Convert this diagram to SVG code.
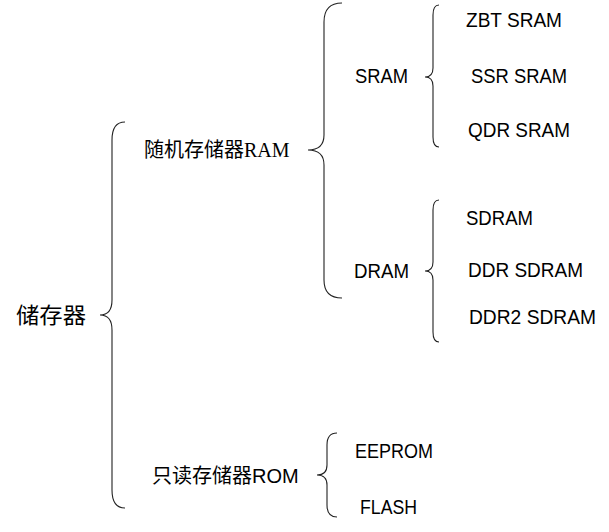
<svg xmlns="http://www.w3.org/2000/svg" width="609" height="532" viewBox="0 0 609 532">
<style>
.brace{fill:none;stroke:#222;stroke-width:1.1}
.cjk{font-family:"Noto Sans CJK SC","Liberation Sans",sans-serif;fill:#000}
.lat{font-family:"Liberation Sans","DejaVu Sans",sans-serif;font-size:20px;fill:#000}
.ser{font-family:"Liberation Serif",serif}
</style>
<rect width="609" height="532" fill="#fff"/>
<g id="connectors">
<path class="brace" d="M125,122 Q112,122 112,140 L112,300 Q112,315 100,315 Q112,315 112,330 L112,490 Q112,508 125,508"/>
<path class="brace" d="M342,3 Q324,3 324,22 L324,135 Q324,150 308,150 Q324,150 324,165 L324,280 Q324,298 342,298"/>
<path class="brace" d="M439,5 Q433,5 433,15 L433,68 Q433,77 425,77 Q433,77 433,86 L433,137 Q433,147 439,147"/>
<path class="brace" d="M439,200 Q433,200 433,210 L433,262 Q433,271 425,271 Q433,271 433,280 L433,332 Q433,342 439,342"/>
<path class="brace" d="M337,433 Q327,433 327,445 L327,465 Q327,475 317,475 Q327,475 327,485 L327,505 Q327,517 337,517"/>
</g>
<g id="root"><text class="cjk" x="16" y="323" font-size="22" textLength="70" lengthAdjust="spacingAndGlyphs">储存器</text></g>
<g id="ram"><text class="cjk" x="144" y="157" font-size="20">随机存储器<tspan class="ser">RAM</tspan></text></g>
<g id="rom"><text class="cjk" x="152" y="483" font-size="20">只读存储器<tspan font-family="Liberation Sans, sans-serif">ROM</tspan></text></g>
<g id="sram"><text class="lat" x="355" y="83" textLength="53" lengthAdjust="spacingAndGlyphs">SRAM</text></g>
<g id="dram"><text class="lat" x="354" y="278" textLength="55" lengthAdjust="spacingAndGlyphs">DRAM</text></g>
<g id="zbt"><text class="lat" x="466" y="27" textLength="96" lengthAdjust="spacingAndGlyphs">ZBT SRAM</text></g>
<g id="ssr"><text class="lat" x="471" y="83" textLength="96" lengthAdjust="spacingAndGlyphs">SSR SRAM</text></g>
<g id="qdr"><text class="lat" x="468" y="137" textLength="102" lengthAdjust="spacingAndGlyphs">QDR SRAM</text></g>
<g id="sdram"><text class="lat" x="466" y="225" textLength="67" lengthAdjust="spacingAndGlyphs">SDRAM</text></g>
<g id="ddr"><text class="lat" x="468" y="277" textLength="115" lengthAdjust="spacingAndGlyphs">DDR SDRAM</text></g>
<g id="ddr2"><text class="lat" x="469" y="324" textLength="127" lengthAdjust="spacingAndGlyphs">DDR2 SDRAM</text></g>
<g id="eeprom"><text class="lat" x="355" y="458" textLength="78" lengthAdjust="spacingAndGlyphs">EEPROM</text></g>
<g id="flash"><text class="lat" x="360" y="514" textLength="57" lengthAdjust="spacingAndGlyphs">FLASH</text></g>
</svg>
